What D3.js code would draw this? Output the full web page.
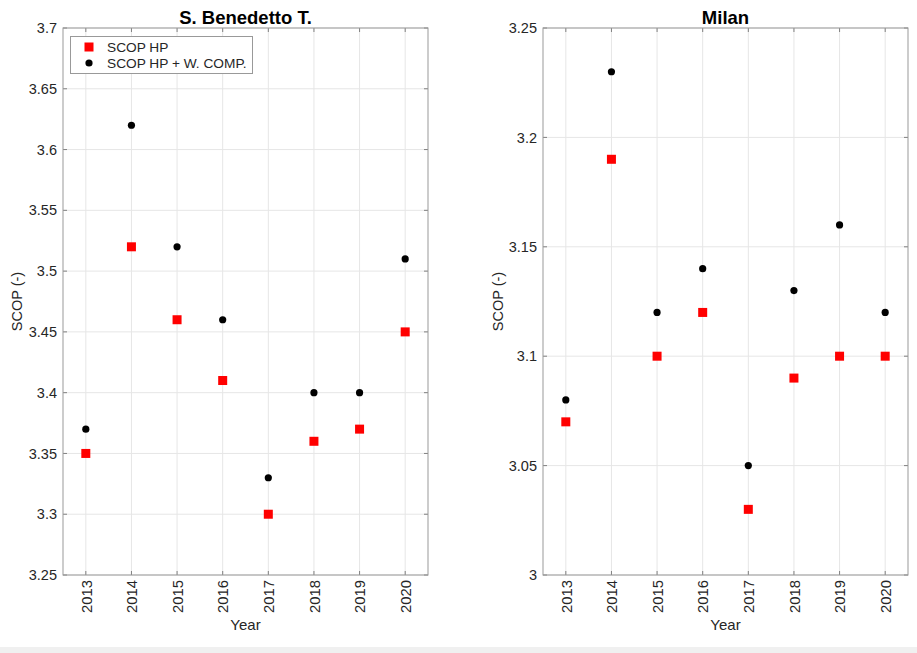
<!DOCTYPE html>
<html><head><meta charset="utf-8">
<script src="https://cdn.jsdelivr.net/npm/d3@7"></script>
<style>body{margin:0;background:#fff;} text{font-family:"Liberation Sans",Arial,sans-serif;}</style>
</head><body>
<svg id="c" width="917" height="653"></svg>
<script>
const years = [2013, 2014, 2015, 2016, 2017, 2018, 2019, 2020];
const sbHP = [3.35, 3.52, 3.46, 3.41, 3.30, 3.36, 3.37, 3.45];
const sbWC = [3.37, 3.62, 3.52, 3.46, 3.33, 3.40, 3.40, 3.51];
const miHP = [3.07, 3.19, 3.10, 3.12, 3.03, 3.09, 3.10, 3.10];
const miWC = [3.08, 3.23, 3.12, 3.14, 3.05, 3.13, 3.16, 3.12];
const sbTicks = [3.25, 3.3, 3.35, 3.4, 3.45, 3.5, 3.55, 3.6, 3.65, 3.7];
const miTicks = [3, 3.05, 3.1, 3.15, 3.2, 3.25];
const seriesNames = ["SCOP HP", "SCOP HP + W. COMP."];

const svg = d3.select("#c");
svg.append("rect").attr("x",0).attr("y",647).attr("width",917).attr("height",6).attr("fill","#f0f0f0");

function panel(o) {
  const x = d3.scaleLinear().domain([2012.5, 2020.5]).range([o.x0, o.x1]);
  const y = d3.scaleLinear().domain([o.ticks[0], o.ticks[o.ticks.length-1]]).range([o.y1, o.y0]);
  const g = svg.append("g");
  // grid
  g.selectAll(".gx").data(years).enter().append("line")
    .attr("x1", d=>x(d)).attr("x2", d=>x(d)).attr("y1", o.y0).attr("y2", o.y1)
    .attr("stroke", "#e6e6e6").attr("stroke-width", 1);
  g.selectAll(".gy").data(o.ticks).enter().append("line")
    .attr("x1", o.x0).attr("x2", o.x1).attr("y1", d=>y(d)).attr("y2", d=>y(d))
    .attr("stroke", "#e6e6e6").attr("stroke-width", 1);
  // axes
  const ax = d3.axisBottom(x).tickValues(years).tickSize(0).tickPadding(6).tickFormat(d3.format(""));
  const ga = g.append("g").attr("transform", `translate(0,${o.y1})`).call(ax);
  ga.select(".domain").remove();
  ga.selectAll("text").attr("transform","rotate(-90)").attr("text-anchor","end")
    .attr("x", -5).attr("y", 0).attr("dy", "0.35em").attr("font-size", 14.8).attr("fill", "#262626");
  const ay = d3.axisLeft(y).tickValues(o.ticks).tickSize(0).tickPadding(6).tickFormat(d3.format(""));
  const gy = g.append("g").attr("transform", `translate(${o.x0},0)`).call(ay);
  gy.select(".domain").remove();
  gy.selectAll("text").attr("font-size", 14.5).attr("fill", "#262626");
  // tick marks inward on all four sides
  const tl = 4, tc = "#808080";
  years.forEach(d => {
    g.append("line").attr("x1", x(d)).attr("x2", x(d)).attr("y1", o.y1).attr("y2", o.y1-tl).attr("stroke", tc);
    g.append("line").attr("x1", x(d)).attr("x2", x(d)).attr("y1", o.y0).attr("y2", o.y0+tl).attr("stroke", tc);
  });
  o.ticks.forEach(d => {
    g.append("line").attr("x1", o.x0).attr("x2", o.x0+tl).attr("y1", y(d)).attr("y2", y(d)).attr("stroke", tc);
    g.append("line").attr("x1", o.x1).attr("x2", o.x1-tl).attr("y1", y(d)).attr("y2", y(d)).attr("stroke", tc);
  });
  g.append("rect").attr("x", o.x0).attr("y", o.y0).attr("width", o.x1-o.x0).attr("height", o.y1-o.y0)
    .attr("fill", "none").attr("stroke", "#999999").attr("stroke-width", 1);
  // labels
  g.append("text").attr("x", (o.x0+o.x1)/2).attr("y", 24).attr("text-anchor","middle")
    .attr("font-size", 18.5).attr("font-weight","bold").attr("fill","#000").text(o.title);
  g.append("text").attr("x", (o.x0+o.x1)/2).attr("y", 630).attr("text-anchor","middle")
    .attr("font-size", 15).attr("fill","#262626").text("Year");
  g.append("text").attr("transform", `translate(${o.ylx},${(o.y0+o.y1)/2}) rotate(-90)`)
    .attr("text-anchor","middle").attr("font-size", 14.5).attr("fill","#262626").text("SCOP (-)");
  // data
  const s = 9;
  g.selectAll(".hp").data(o.hp).enter().append("rect")
    .attr("x", (d,i)=>x(years[i])-s/2).attr("y", d=>y(d)-s/2).attr("width", s).attr("height", s)
    .attr("fill", "#ff0000");
  g.selectAll(".wc").data(o.wc).enter().append("circle")
    .attr("cx", (d,i)=>x(years[i])).attr("cy", d=>y(d)).attr("r", 3.6).attr("fill", "#000");
  if (o.legend) {
    const lx = 70.5, ly = 36.5;
    g.append("rect").attr("x", lx).attr("y", ly).attr("width", 182).attr("height", 37)
      .attr("fill", "#fff").attr("stroke", "#999999");
    g.append("rect").attr("x", 89-4.5).attr("y", 47-4.5).attr("width", 9).attr("height", 9).attr("fill","#ff0000");
    g.append("circle").attr("cx", 89).attr("cy", 63).attr("r", 3.6).attr("fill","#000");
    g.append("text").attr("x", 107).attr("y", 47).attr("dy","0.35em").attr("font-size", 13.7).attr("fill","#262626").text(seriesNames[0]);
    g.append("text").attr("x", 107).attr("y", 63).attr("dy","0.35em").attr("font-size", 13.7).attr("fill","#262626").text(seriesNames[1]);
  }
}

panel({x0: 63, x1: 428, y0: 28, y1: 575, ticks: sbTicks, hp: sbHP, wc: sbWC, title: "S. Benedetto T.", ylx: 22, legend: true});
panel({x0: 543, x1: 908, y0: 28, y1: 575, ticks: miTicks, hp: miHP, wc: miWC, title: "Milan", ylx: 503, legend: false});
</script>
</body></html>
